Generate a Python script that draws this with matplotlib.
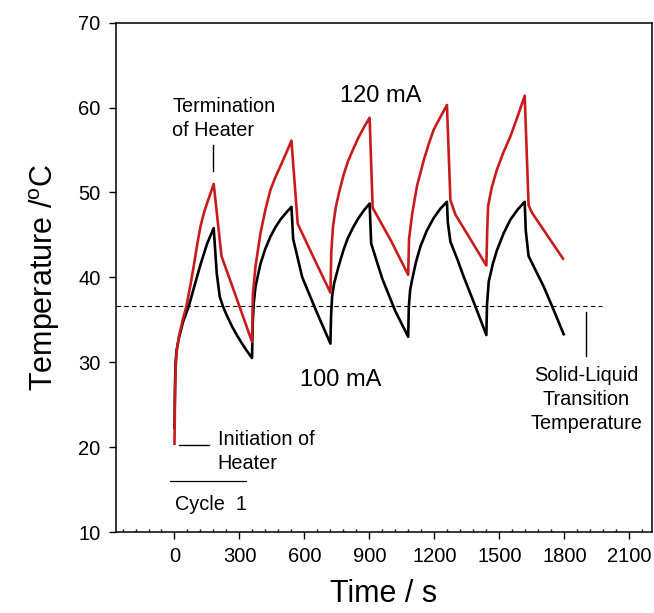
import matplotlib
matplotlib.use("Agg")
import matplotlib.pyplot as plt
from matplotlib.ticker import MultipleLocator

plt.rcParams["font.family"] = ["Liberation Sans", "DejaVu Sans"]
plt.rcParams["mathtext.fontset"] = "custom"
plt.rcParams["mathtext.rm"] = "Liberation Sans"

# ---------------------------------------------------------------------------
# Data
# ---------------------------------------------------------------------------

time_120 = [0, 2, 5, 10, 20, 40, 55, 75, 90, 105, 120, 135, 150, 165, 181,
            217, 290, 358,
            362, 374, 397, 420, 443, 466, 489, 515, 540,
            569, 643, 720,
            724, 732, 745, 760, 780, 800, 825, 850, 875, 901,
            915, 1000, 1079,
            1083, 1097, 1120, 1151, 1175, 1197, 1228, 1258,
            1274, 1297, 1440,
            1444, 1448, 1465, 1489, 1520, 1551, 1585, 1617,
            1635, 1651, 1794]
temp_120 = [20.4, 25.0, 29.0, 31.2, 33.0, 35.2, 36.6, 39.3, 41.5, 43.9, 46.0,
            47.5, 48.7, 49.8, 51.0,
            42.5, 37.3, 32.4,
            38.0, 41.3, 45.2, 48.0, 50.3, 51.8, 53.1, 54.6, 56.1,
            46.3, 42.3, 38.2,
            43.0, 46.0, 48.3, 50.0, 52.0, 53.6, 55.1, 56.5, 57.7, 58.8,
            48.2, 44.3, 40.3,
            44.5, 47.4, 50.8, 53.8, 55.8, 57.4, 58.9, 60.3,
            49.1, 47.4, 41.4,
            45.5, 48.4, 50.6, 52.7, 54.8, 56.6, 59.0, 61.4,
            48.5, 47.6, 42.2]

time_100 = [0, 2, 5, 10, 20, 40, 66, 90, 120, 151, 181,
            195, 209, 225, 240, 266, 290, 312, 335, 358,
            361, 366, 374, 397, 420, 443, 466, 489, 515, 540,
            548, 563, 590, 655, 720,
            723, 728, 737, 760, 780, 800, 825, 850, 875, 901,
            908, 935, 960, 1020, 1079,
            1082, 1088, 1097, 1115, 1135, 1165, 1197, 1228, 1258,
            1262, 1274, 1305, 1335, 1389, 1440,
            1443, 1451, 1470, 1489, 1520, 1551, 1585, 1617,
            1622, 1635, 1670, 1705, 1750, 1797]
temp_100 = [22.3, 27.0, 30.0, 31.5, 32.8, 34.8, 36.6, 38.8, 41.5, 44.0, 45.8,
            40.5, 37.7, 36.5, 35.6, 34.2, 33.1, 32.2, 31.3, 30.5,
            34.5, 37.0, 38.9, 41.6, 43.4, 44.8, 45.9, 46.8, 47.6, 48.3,
            44.5, 42.9, 40.0, 36.0, 32.2,
            35.5, 37.8, 39.3, 41.5, 43.2, 44.6, 45.9, 47.0, 47.9, 48.7,
            44.0, 41.8, 39.8, 36.0, 33.0,
            36.5, 38.5, 39.7, 41.8, 43.6, 45.5, 47.0, 48.1, 48.9,
            46.5, 44.2, 42.2, 40.1, 36.6, 33.2,
            36.8, 39.5, 41.6, 43.2, 45.2, 46.8, 48.0, 48.9,
            45.5, 42.5, 40.7, 38.9, 36.2, 33.3]

transition_temp = 36.6
transition_end = 1975

x_ticks = [0, 300, 600, 900, 1200, 1500, 1800, 2100]
y_ticks = [10, 20, 30, 40, 50, 60, 70]

# ---------------------------------------------------------------------------
# Plot
# ---------------------------------------------------------------------------

fig = plt.figure(figsize=(6.54, 6.13), dpi=100)
ax = fig.add_axes([0.1774, 0.1321, 0.8196, 0.8309])

ax.plot(time_100, temp_100, color="black", linewidth=1.9)
ax.plot(time_120, temp_120, color="#c81c1c", linewidth=1.9)

ax.plot([-270, transition_end], [transition_temp, transition_temp],
        color="black", linestyle=(0, (4, 3)), linewidth=0.8)

ax.set_xlim(-270, 2205)
ax.set_ylim(10, 70)
ax.set_xticks(x_ticks)
ax.set_yticks(y_ticks)
ax.xaxis.set_minor_locator(MultipleLocator(60))
ax.tick_params(axis="both", which="major", direction="out", length=5,
               width=1.0, labelsize=14.5, pad=6)
ax.tick_params(axis="x", which="minor", direction="in", length=2.5, width=1.0)
for sp in ax.spines.values():
    sp.set_linewidth(1.1)

ax.set_xlabel("Time / s", fontsize=22, labelpad=9)
ax.set_ylabel(r"Temperature /$^{\mathrm{o}}$C", fontsize=22, labelpad=12)

# annotations
ann = 14.3
ax.text(951, 61.4, "120 mA", fontsize=17, ha="center", va="center")
ax.text(766, 27.9, "100 mA", fontsize=17, ha="center", va="center")

ax.text(-11, 56.2, "Termination\nof Heater", fontsize=ann, ha="left",
        va="bottom", linespacing=1.3)
ax.plot([179, 179], [52.5, 55.6], color="black", linewidth=1.0)

ax.text(200, 22.0, "Initiation of\nHeater", fontsize=ann, ha="left",
        va="top", linespacing=1.3)
ax.plot([20, 158], [20.3, 20.3], color="black", linewidth=1.0)

ax.plot([-21, 332], [16.05, 16.05], color="black", linewidth=0.9)
ax.text(170, 14.4, "Cycle  1", fontsize=ann, ha="center", va="top")

ax.plot([1900, 1900], [30.7, 35.9], color="black", linewidth=1.0)
ax.text(1900, 29.6, "Solid-Liquid\nTransition\nTemperature", fontsize=ann,
        ha="center", va="top", linespacing=1.35)

fig.savefig("out.png", dpi=100)
